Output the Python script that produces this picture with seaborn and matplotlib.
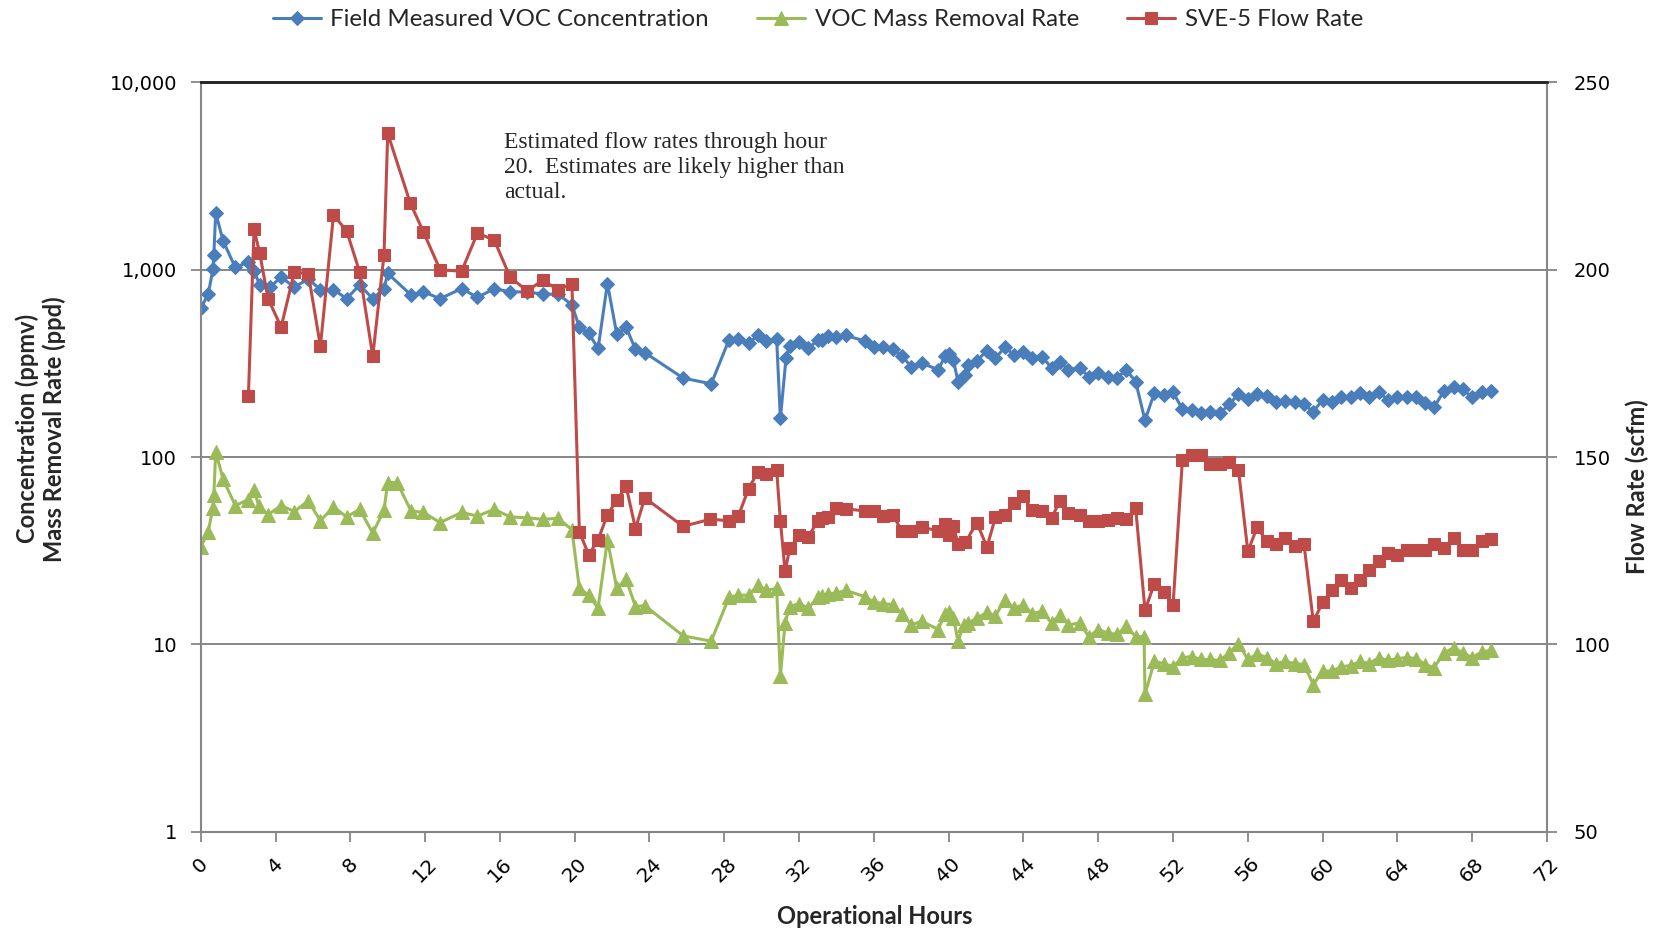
import matplotlib
matplotlib.use("Agg")
import matplotlib.pyplot as plt
from matplotlib.ticker import FuncFormatter, NullLocator
import seaborn as sns


# DATA
conc_hours = [
    0.0, 0.4, 0.65, 0.7, 0.8, 1.2, 1.85, 2.55, 2.85, 3.15, 3.7, 4.3, 5.0, 5.75,
    6.4, 7.1, 7.8, 8.5, 9.2, 9.8, 10.0, 11.25, 11.9, 12.8, 13.95, 14.8, 15.7,
    16.55, 17.45, 18.3, 19.1, 19.85, 20.25, 20.75, 21.25, 21.75, 22.25, 22.75,
    23.25, 23.75, 25.8, 27.3, 28.25, 28.75, 29.3, 29.8, 30.25, 30.8, 31.0,
    31.3, 31.5, 32.0, 32.5, 33.0, 33.25, 33.55, 34.0, 34.5, 35.5, 36.0, 36.5,
    37.0, 37.5, 38.0, 38.55, 39.45, 39.8, 40.0, 40.25, 40.5, 40.9, 41.05,
    41.5, 42.05, 42.5, 43.0, 43.5, 44.0, 44.45, 45.0, 45.5, 45.95, 46.4, 47.0,
    47.5, 48.0, 48.5, 49.0, 49.5, 50.0, 50.5, 51.0, 51.5, 52.0, 52.5, 53.0,
    53.5, 54.0, 54.5, 55.0, 55.5, 56.0, 56.5, 57.0, 57.5, 58.0, 58.5, 59.0,
    59.5, 60.0, 60.5, 61.0, 61.5, 62.0, 62.5, 63.0, 63.5, 64.0, 64.5, 65.0,
    65.5, 65.95, 66.5, 67.0, 67.5, 68.0, 68.5, 69.0,
]
conc_ppmv = [
    623, 741, 1005, 1198, 2014, 1420, 1029, 1101, 990, 830, 807, 914, 807, 893,
    784, 784, 701, 830, 701, 793, 956, 733, 763, 701, 793, 712, 793,
    762, 762, 741, 741, 651, 493, 458, 380, 844, 453, 493,
    376, 361, 264, 246, 422, 428, 405, 446, 417, 428, 161,
    336, 394, 409, 380, 422, 422, 441, 438, 446, 417, 387, 387,
    376, 346, 304, 318, 292, 346, 356, 330, 253, 275, 312,
    326, 370, 336, 387, 350, 362, 340, 342, 300, 323, 292, 300,
    268, 281, 268, 265, 292, 253, 157, 220, 214, 222, 180, 178,
    171, 175, 171, 191, 217, 205, 217, 211, 196, 200, 196, 191,
    175, 202, 196, 208, 210, 220, 208, 222, 202, 210, 208, 208,
    194, 184, 226, 236, 230, 208, 222, 226,
]

mass_hours = [
    0.0, 0.4, 0.65, 0.7, 0.8, 1.2, 1.85, 2.55, 2.85, 3.1, 3.6, 4.3, 5.0, 5.75,
    6.4, 7.1, 7.8, 8.5, 9.2, 9.8, 10.0, 10.5, 11.25, 11.9, 12.8, 13.95, 14.8,
    15.7, 16.55, 17.45, 18.3, 19.1, 19.85, 20.25, 20.75, 21.25, 21.75, 22.25,
    22.75, 23.25, 23.75, 25.8, 27.3, 28.25, 28.75, 29.3, 29.8, 30.25, 30.8,
    31.0, 31.25, 31.5, 32.0, 32.5, 33.0, 33.25, 33.55, 34.0, 34.5, 35.5, 36.0,
    36.5, 37.0, 37.5, 38.0, 38.55, 39.45, 39.8, 40.0, 40.25, 40.5, 40.8, 41.05,
    41.5, 42.05, 42.5, 43.0, 43.5, 44.0, 44.45, 45.0, 45.5, 45.95, 46.4, 47.0,
    47.5, 48.0, 48.5, 49.0, 49.5, 50.0, 50.45, 50.5, 51.0, 51.5, 52.0, 52.5,
    53.0, 53.5, 54.0, 54.5, 55.0, 55.5, 56.0, 56.5, 57.0, 57.5, 58.0, 58.5,
    59.0, 59.5, 60.0, 60.5, 61.0, 61.5, 62.0, 62.5, 63.0, 63.5, 64.0, 64.5,
    65.0, 65.5, 65.95, 66.5, 67.0, 67.5, 68.0, 68.5, 69.0,
]
mass_ppd = [
    33.1, 39.9, 53.6, 62.8, 106.7, 76.0, 55.1, 59.3, 66.4, 55.1, 49.2, 55.1, 51.2, 58.3,
    45.7, 54.2, 47.9, 52.6, 39.3, 52.0, 73.1, 73.1, 51.5, 50.7, 44.7, 50.6, 48.4,
    52.6, 47.9, 47.4, 46.5, 47.1, 41.0, 19.9, 18.3, 15.6, 36.1, 19.9,
    22.3, 15.9, 16.1, 11.1, 10.4, 17.8, 18.3, 18.3, 20.7, 19.4, 19.9,
    6.8, 13.0, 15.9, 16.5, 15.6, 17.8, 18.1, 18.6, 18.8, 19.4, 18.0, 16.8,
    16.5, 16.3, 14.6, 12.7, 13.3, 12.0, 14.6, 14.8, 13.9, 10.4, 12.7, 13.0,
    13.8, 14.8, 14.2, 17.3, 15.6, 16.3, 14.6, 15.0, 13.0, 14.4, 12.7, 13.0,
    11.0, 12.0, 11.5, 11.3, 12.5, 11.0, 11.0, 5.4, 8.1, 7.9, 7.6, 8.5,
    8.6, 8.3, 8.3, 8.2, 9.0, 10.1, 8.3, 8.9, 8.5, 7.9, 8.1, 7.9,
    7.8, 6.1, 7.2, 7.2, 7.6, 7.7, 8.1, 7.9, 8.5, 8.2, 8.4, 8.5,
    8.4, 7.8, 7.5, 9.0, 9.6, 9.0, 8.5, 9.1, 9.3,
]

flow_hours = [
    2.55, 2.85, 3.15, 3.6, 4.3, 5.0, 5.75, 6.4, 7.1, 7.8, 8.5, 9.2, 9.8, 10.0,
    11.2, 11.9, 12.8, 13.95, 14.8, 15.7, 16.55, 17.45, 18.3, 19.1, 19.85,
    20.25, 20.75, 21.25, 21.75, 22.25, 22.75, 23.25, 23.75, 25.8, 27.25,
    28.25, 28.75, 29.3, 29.8, 30.25, 30.8, 31.0, 31.25, 31.5, 32.0, 32.5,
    33.0, 33.25, 33.55, 34.0, 34.5, 35.5, 36.0, 36.5, 37.0, 37.5, 38.0,
    38.55, 39.45, 39.8, 40.0, 40.25, 40.5, 40.9, 41.5, 42.05, 42.5, 43.0,
    43.5, 44.0, 44.45, 45.0, 45.5, 45.95, 46.4, 47.0, 47.5, 48.0, 48.5, 49.0,
    49.5, 50.0, 50.5, 51.0, 51.5, 52.0, 52.5, 53.0, 53.5, 54.0, 54.5, 55.0,
    55.5, 56.0, 56.5, 57.0, 57.5, 58.0, 58.5, 59.0, 59.5, 60.0, 60.5, 61.0,
    61.5, 62.0, 62.5, 63.0, 63.5, 64.0, 64.5, 65.0, 65.5, 65.95, 66.5, 67.0,
    67.5, 68.0, 68.5, 69.0,
]
flow_scfm = [
    166.3, 210.8, 204.5, 192.3, 184.7, 199.3, 199.0, 179.6, 214.6, 210.4, 199.4, 176.9, 203.9, 236.4,
    217.9, 210.2, 200.0, 199.6, 209.8, 207.9, 198.0, 194.4, 197.2, 194.7, 196.2,
    130.1, 123.9, 127.9, 134.6, 138.5, 142.2, 130.9, 139.1, 131.5, 133.4,
    133.0, 134.2, 141.6, 146.0, 145.4, 146.5, 133.0, 119.5, 125.6, 129.1, 128.7,
    133.0, 133.6, 134.0, 136.4, 136.2, 135.6, 135.5, 134.2, 134.6, 130.3, 130.3,
    131.3, 130.3, 132.1, 129.1, 131.5, 126.9, 127.2, 132.5, 126.0, 133.9, 134.6,
    137.7, 139.5, 135.8, 135.5, 133.7, 138.3, 135.0, 134.6, 132.8, 133.0, 133.3, 133.7,
    133.4, 136.4, 109.1, 116.2, 114.1, 110.4, 149.3, 150.6, 150.6, 148.1, 148.1, 148.7,
    146.5, 124.8, 131.3, 127.6, 126.9, 128.5, 126.3, 126.9, 106.1, 111.2, 114.6, 117.1,
    115.0, 117.1, 119.9, 122.3, 124.4, 123.9, 125.2, 125.2, 125.2, 126.9, 125.6, 128.5,
    125.2, 125.2, 127.6, 128.1,
]

series_names = ["Field Measured VOC Concentration", "VOC Mass Removal Rate", "SVE-5 Flow Rate"]
x_ticks = list(range(0, 73, 4))
left_ticks = [1, 10, 100, 1000, 10000]
right_ticks = [50, 100, 150, 200, 250]
note_text = "Estimated flow rates through hour\n20.  Estimates are likely higher than\nactual."

BLUE = "#4A7EBB"
GREEN = "#9BBB59"
RED = "#BE4B48"
AXIS_GRAY = "#868686"


# STYLE
sns.set_theme(style="white")
plt.rcParams["font.family"] = ["DejaVu Sans"]

fig = plt.figure(figsize=(16.59, 9.32), dpi=100)
ax = fig.add_axes([0.121, 0.1077, 0.8115, 0.8038])
ax2 = ax.twinx()

# Lines
sns.lineplot(x=conc_hours, y=conc_ppmv, ax=ax, color=BLUE, linewidth=2.2,
             marker="D", markersize=7, markeredgecolor=BLUE,
             estimator=None, sort=False, label=series_names[0])
sns.lineplot(x=mass_hours, y=mass_ppd, ax=ax, color=GREEN, linewidth=2.2,
             marker="^", markersize=10, markeredgecolor=GREEN,
             estimator=None, sort=False, label=series_names[1])
sns.lineplot(x=flow_hours, y=flow_scfm, ax=ax2, color=RED, linewidth=2.2,
             marker="s", markersize=8, markeredgecolor=RED,
             estimator=None, sort=False, label=series_names[2])

# Left axis (log)
ax.set_yscale("log")
ax.set_ylim(1, 10000)
ax.set_yticks(left_ticks)
ax.yaxis.set_minor_locator(NullLocator())
ax.yaxis.set_major_formatter(FuncFormatter(lambda v, p: f"{v:,.0f}"))
ax.set_xlim(0, 72)
ax.set_xticks(x_ticks)
ax.set_xticklabels([str(t) for t in x_ticks], rotation=45, ha="center")
ax.grid(axis="y", which="major", color=AXIS_GRAY, linewidth=1.4)
ax.grid(axis="x", visible=False)
ax.set_xlabel("")
ax.set_ylabel("")

# Right axis (linear)
ax2.set_ylim(50, 250)
ax2.set_yticks(right_ticks)
ax2.grid(False)
ax2.set_ylabel("")

for a in (ax, ax2):
    for side in ("left", "right", "bottom"):
        a.spines[side].set_color(AXIS_GRAY)
        a.spines[side].set_linewidth(1.5)
    a.spines["top"].set_color("#222222")
    a.spines["top"].set_linewidth(1.8)
ax.spines["right"].set_visible(False)
ax2.spines["left"].set_visible(False)
ax2.spines["bottom"].set_visible(False)

ax.tick_params(axis="x", bottom=True, direction="out", length=7, width=1.3,
               color=AXIS_GRAY, labelsize=14.5, pad=9, labelcolor="black")
ax.tick_params(axis="y", left=True, direction="out", length=7, width=1.3,
               color=AXIS_GRAY, labelsize=14, pad=10, labelcolor="black")
ax2.tick_params(axis="y", right=True, direction="out", length=7, width=1.3,
                color=AXIS_GRAY, labelsize=14, pad=12, labelcolor="black")

# Legend across the top
handles, labels = ax.get_legend_handles_labels()
h2, l2 = ax2.get_legend_handles_labels()
ax.get_legend().remove()
ax2.get_legend().remove()
fig.legend(handles + h2, labels + l2, loc="center", bbox_to_anchor=(0.493, 0.979),
           ncol=3, frameon=False, handlelength=2.0, handletextpad=0.4,
           columnspacing=2.0, prop={"family": "Lato", "size": 17.3})

# Axis titles
label_font = {"family": "Lato", "weight": "bold", "size": 17}
fig.text(0.0245, 0.54, "Concentration (ppmv)\nMass Removal Rate (ppd)", rotation=90,
         ha="center", va="center", multialignment="center", linespacing=1.2, **label_font)
fig.text(0.987, 0.478, "Flow Rate (scfm)", rotation=90, ha="center", va="center", **label_font)
fig.text(0.527, 0.017, "Operational Hours", ha="center", va="center", **label_font)

# Note
fig.text(0.304, 0.858, note_text, ha="left", va="top", family="Liberation Serif",
         fontsize=17, linespacing=1.24)

fig.savefig("out.png", dpi=100)
